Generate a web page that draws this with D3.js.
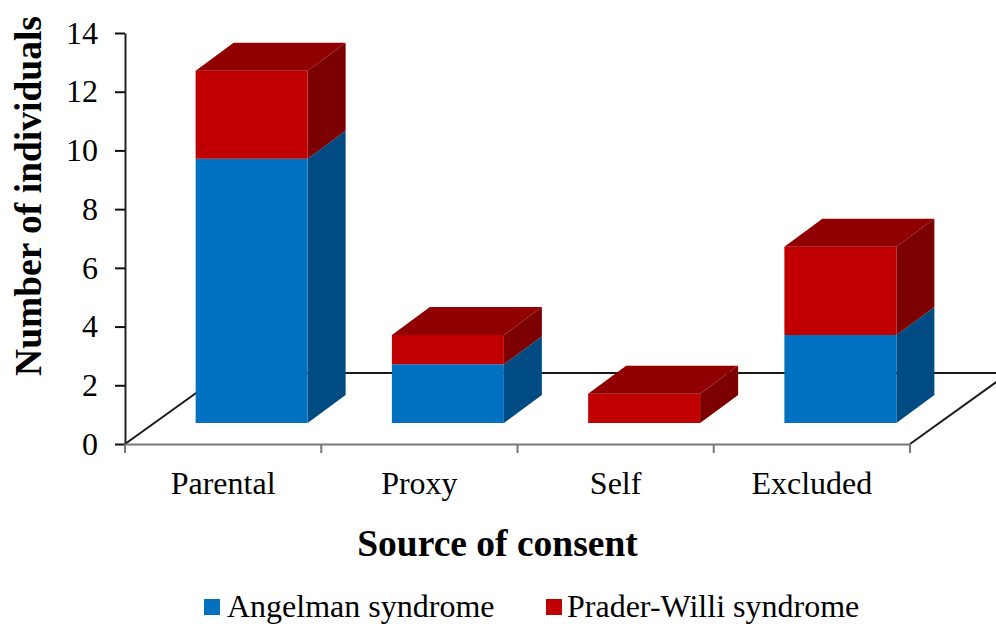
<!DOCTYPE html>
<html><head><meta charset="utf-8">
<script src="https://cdn.jsdelivr.net/npm/d3@7"></script>
<style>html,body{margin:0;padding:0;background:#fff;overflow:hidden}svg{display:block}text{font-family:"Liberation Serif",serif;fill:#000}</style>
</head><body><svg id="c" width="996" height="624"></svg>
<script>
const categories = ["Parental","Proxy","Self","Excluded"];
const angelman = [9,2,0,3];
const prader = [3,1,1,3];
const yTicks = [0,2,4,6,8,10,12,14];
const seriesNames = ["Angelman syndrome","Prader-Willi syndrome"];

const svg = d3.select("#c");
const y = d3.scaleLinear().domain([0,14]).range([444,33]);
const x = d3.scaleBand().domain(categories).range([125,910]).paddingInner(0).paddingOuter(0);
const barW = 112, dx = 38, dy = 28, floorH = 21, shiftX = 28.5;
const pal = [
  {front:"#0070c0", side:"#004c82", top:"#00558f"},
  {front:"#c00000", side:"#7c0000", top:"#900000"}
];

// floor
const floorDx = 99, floorDy = 71;
const floor = svg.append("g").attr("fill","none").attr("stroke","#1a1a1a").attr("stroke-width",2);
floor.append("line").attr("x1",125).attr("y1",y(0)).attr("x2",125+floorDx).attr("y2",y(0)-floorDy);
floor.append("line").attr("x1",125+floorDx).attr("y1",y(0)-floorDy).attr("x2",910+floorDx).attr("y2",y(0)-floorDy);
floor.append("line").attr("x1",910).attr("y1",y(0)).attr("x2",910+floorDx).attr("y2",y(0)-floorDy);

// bars
const stacked = categories.map((c,i)=>({c,segs:[
  {s:0,y0:0,y1:angelman[i]},
  {s:1,y0:angelman[i],y1:angelman[i]+prader[i]}
]}));
const poly = (g,pts,fill)=>g.append("polygon").attr("points",pts.map(p=>p.join(",")).join(" ")).attr("fill",fill);
stacked.forEach(d=>{
  const g = svg.append("g");
  const l = x(d.c)+(x.bandwidth()-barW)/2+shiftX, r = l+barW;
  d.segs.filter(s=>s.y1>s.y0).forEach(s=>{
    const t = y(s.y1)-floorH, b = y(s.y0)-floorH;
    const p = pal[s.s];
    poly(g,[[r,t],[r+dx,t-dy],[r+dx,b-dy],[r,b]],p.side);
    poly(g,[[l,t],[r,t],[r,b],[l,b]],p.front);
    if(s.y1===d.segs[1].y1) poly(g,[[l,t],[l+dx,t-dy],[r+dx,t-dy],[r,t]],p.top);
  });
});

// y axis
const ya = svg.append("g").attr("transform","translate(125,0)")
  .call(d3.axisLeft(y).tickValues(yTicks).tickSize(10).tickSizeOuter(0).tickPadding(17));
ya.select(".domain").attr("stroke","#222").attr("stroke-width",2);
ya.selectAll(".tick line").attr("stroke","#111").attr("stroke-width",2);
ya.selectAll("text").style("font-size","32px").style("font-family","Liberation Serif").attr("fill","#000");

// x axis
const xa = svg.append("g").attr("transform",`translate(0,${y(0)})`)
  .call(d3.axisBottom(x).tickSize(0).tickPadding(27));
xa.select(".domain").attr("stroke","#777").attr("stroke-width",2);
xa.selectAll("text").style("font-size","32px").style("font-family","Liberation Serif").attr("fill","#000");
const edges = categories.map(c=>x(c)).concat(x.range()[1]);
xa.selectAll("line.edge").data(edges).join("line").attr("class","edge")
  .attr("x1",d=>d).attr("x2",d=>d).attr("y1",0).attr("y2",9).attr("stroke","#777").attr("stroke-width",2);

// titles
svg.append("text").attr("transform","translate(41,196) rotate(-90)").attr("text-anchor","middle")
  .style("font-size","37.5px").style("font-weight","bold").text("Number of individuals");
svg.append("text").attr("x",497.5).attr("y",556).attr("text-anchor","middle")
  .style("font-size","37.5px").style("font-weight","bold").text("Source of consent");

// legend
const legX = [204,546], legT = [227,567];
seriesNames.forEach((n,i)=>{
  svg.append("rect").attr("x",legX[i]).attr("y",599).attr("width",16).attr("height",16).attr("fill",pal[i].front);
  svg.append("text").attr("x",legT[i]).attr("y",617).style("font-size","32px").text(n);
});
</script></body></html>
